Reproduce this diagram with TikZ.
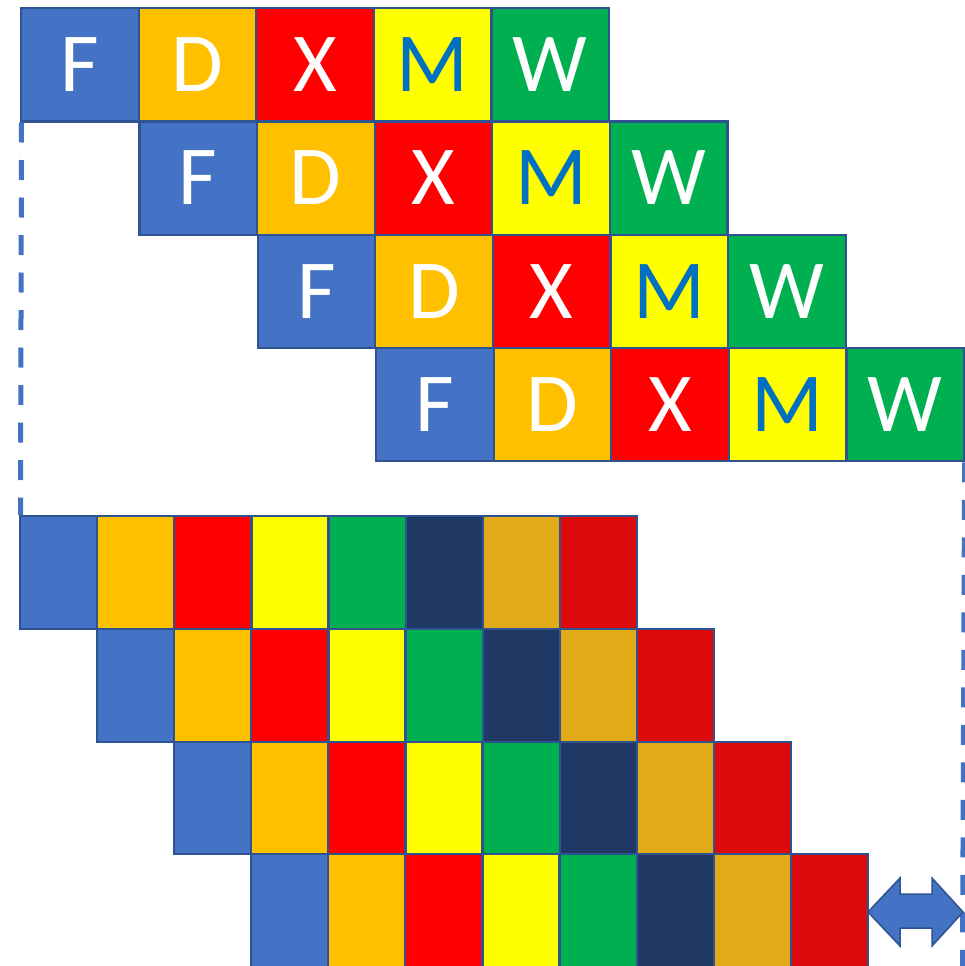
\documentclass[tikz,border=0pt]{standalone}
\usepackage{fontspec}
\setmainfont{Carlito}
\definecolor{cB}{HTML}{4472C4}
\definecolor{cO}{HTML}{FFC000}
\definecolor{cR}{HTML}{FF0000}
\definecolor{cY}{HTML}{FFFF00}
\definecolor{cG}{HTML}{00B050}
\definecolor{cN}{HTML}{203864}
\definecolor{cGo}{HTML}{E1AA18}
\definecolor{cDR}{HTML}{DC0A0B}
\definecolor{cM}{HTML}{0070C0}
\definecolor{cBorder}{HTML}{2F5290}
\begin{document}
\begin{tikzpicture}[x=1pt,y=-1pt,
  cell/.style={draw=cBorder, line width=2.2pt, minimum width=117.6pt, minimum height=113.3pt,
    inner sep=0pt, anchor=north west, text=white, font=\fontsize{84}{84}\selectfont},
  bcell/.style={draw=cBorder, line width=2.2pt, minimum width=77.1pt, minimum height=112.75pt,
    inner sep=0pt, anchor=north west},
  dashline/.style={draw=cB, line width=5pt, dash pattern=on 20pt off 17.5pt},
  dblarrow/.style={fill=cB, draw=cBorder, line width=1.5pt, line join=miter}]
\useasboundingbox (0,0) rectangle (964,966);
\foreach \r in {0,...,3} {
  \foreach \c/\L/\f/\t in {0/F/cB/white,1/D/cO/white,2/X/cR/white,3/M/cY/cM,4/W/cG/white} {
    \node[cell, fill=\f, text=\t] (t\r\c) at ({20+118.3*\r+117.6*\c},{7+113.3*\r}) {\L};
  }
}
\foreach \r in {0,...,3} {
  \foreach \c/\f in {0/cB,1/cO,2/cR,3/cY,4/cG,5/cN,6/cGo,7/cDR} {
    \node[bcell, fill=\f] (b\r\c) at ({19+77*\r+77.1*\c},{515+112.75*\r}) {};
  }
}
\coordinate (rb) at (962.5,966);
\draw[dashline] ([xshift=1.5pt]t00.south west) -- ([xshift=1.5pt]b00.north west);
\draw[dashline] ([xshift=-0.5pt]t34.south east) -- (rb);
\draw[dblarrow] (868,912) -- (900,878) -- (900,894) -- (932,894) -- (932,878) -- (963,912)
  -- (932,946) -- (932,928) -- (900,928) -- (900,946) -- cycle;
\end{tikzpicture}
\end{document}
